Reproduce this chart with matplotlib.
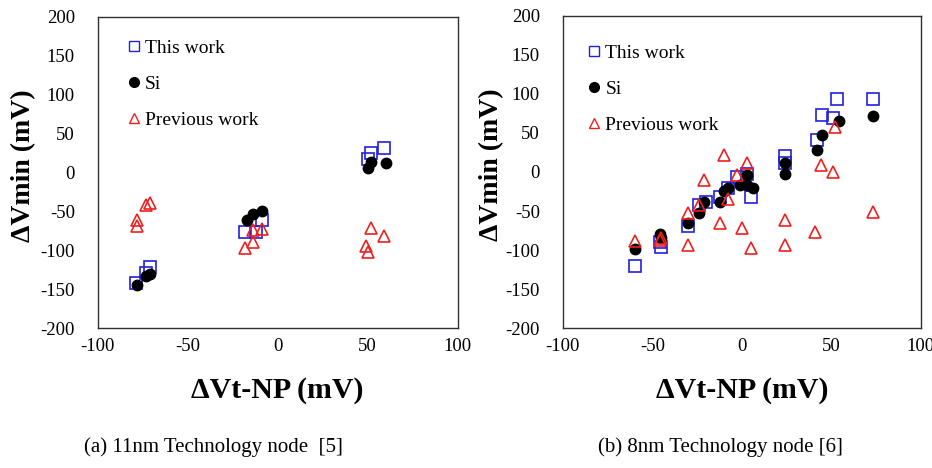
import matplotlib
matplotlib.use("Agg")
import matplotlib.pyplot as plt
from matplotlib.lines import Line2D

plt.rcParams["font.family"] = ["Liberation Serif", "DejaVu Serif"]
plt.rcParams["axes.unicode_minus"] = False

# ---- (a) 11nm node ----------------------------------------------------------
a_this_x = [-79, -73, -71, -18, -12, -9, 50, 52, 59]
a_this_y = [-142, -129, -122, -77, -76, -61, 17, 25, 32]
a_si_x = [-78, -73, -71, -17, -14, -9, 50, 52, 60]
a_si_y = [-145, -133, -130, -61, -54, -50, 6, 14, 12]
a_prev_x = [-78, -78, -73, -71, -18, -14, -14, -9, 52, 59, 49, 50]
a_prev_y = [-61, -69, -42, -39, -97, -90, -74, -73, -72, -82, -95, -102]

# ---- (b) 8nm node -----------------------------------------------------------
b_this_x = [-60, -45, -46, -30, -24, -20, -12, -8, -3, 3, 5, 24, 24, 42, 45, 51, 53, 73]
b_this_y = [-120, -96, -90, -69, -42, -38, -32, -20, -6, -2, -32, 21, 11, 41, 73, 69, 93, 93]
b_si_x = [-60, -46, -45, -30, -24, -21, -12, -10, -8, -1, 3, 3, 6, 24, 24, 42, 45, 54, 73]
b_si_y = [-99, -80, -84, -66, -53, -39, -38, -25, -21, -17, -4, -17, -21, 12, -2, 28, 47, 65, 72]
b_prev_x = [-60, -46, -45, -30, -30, -24, -21, -12, -10, -8, -3, 0, 3, 5,
            24, 24, 41, 44, 51, 52, 73]
b_prev_y = [-89, -87, -84, -94, -53, -42, -10, -65, 22, -34, -4, -72, 11, -97,
            -61, -93, -77, 9, 0, 58, -51]

CAPTIONS = ["(a) 11nm Technology node  [5]", "(b) 8nm Technology node [6]"]
CAPTION_X = [213 / 932, 720 / 932]
XTICKS = [-100, -50, 0, 50, 100]
YTICKS = [-200, -150, -100, -50, 0, 50, 100, 150, 200]

BLUE = "#2020e0"
RED = "#ee2020"

fig = plt.figure(figsize=(9.32, 4.68), dpi=100)
axes = [fig.add_axes([0.105, 0.299, 0.386, 0.665]),
        fig.add_axes([0.604, 0.299, 0.384, 0.667])]

panels = [(a_this_x, a_this_y, a_si_x, a_si_y, a_prev_x, a_prev_y),
          (b_this_x, b_this_y, b_si_x, b_si_y, b_prev_x, b_prev_y)]
legend_anchor = [(0.083, 0.929), (0.07, 0.91)]
ylabel_x = [-0.171, -0.165]

for i, ax in enumerate(axes):
    tx, ty, sx, sy, px, py = panels[i]
    ax.plot(px, py, ls="none", marker="^", ms=8, mfc="none", mec=RED, mew=1.2, zorder=3)
    ax.plot(tx, ty, ls="none", marker="s", ms=8, mfc="none", mec=BLUE, mew=1.2, zorder=2)
    ax.plot(sx, sy, ls="none", marker="o", ms=7.5, color="black", zorder=2.5)
    ax.set_xlim(-100, 100)
    ax.set_ylim(-200, 200)
    ax.set_xticks(XTICKS)
    ax.set_yticks(YTICKS)
    ax.tick_params(length=0, labelsize=13.5)
    ax.tick_params(axis="x", pad=7)
    ax.tick_params(axis="y", pad=16.5)
    for s in ax.spines.values():
        s.set_color("#303030")
        s.set_linewidth(1.0)
    ax.set_xlabel("ΔVt-NP (mV)", fontsize=21.5, fontweight="bold", labelpad=16)
    ax.set_ylabel("ΔVmin (mV)", fontsize=20, fontweight="bold")
    ax.yaxis.set_label_coords(ylabel_x[i], 0.522)
    handles = [
        Line2D([0], [0], ls="none", marker="s", ms=7, mfc="none", mec=BLUE, mew=1.0, label="This work"),
        Line2D([0], [0], ls="none", marker="o", ms=7, color="black", label="Si"),
        Line2D([0], [0], ls="none", marker="^", ms=7, mfc="none", mec=RED, mew=1.0, label="Previous work"),
    ]
    ax.legend(handles=handles, loc="upper left", frameon=False, fontsize=14,
              handlelength=0.6, handletextpad=0.3, labelspacing=0.95,
              borderaxespad=0.0, borderpad=0.0, bbox_to_anchor=legend_anchor[i])
    fig.text(CAPTION_X[i], 1 - 447 / 468, CAPTIONS[i], ha="center", va="center", fontsize=15)

fig.savefig("out.png", dpi=100, facecolor="white")
